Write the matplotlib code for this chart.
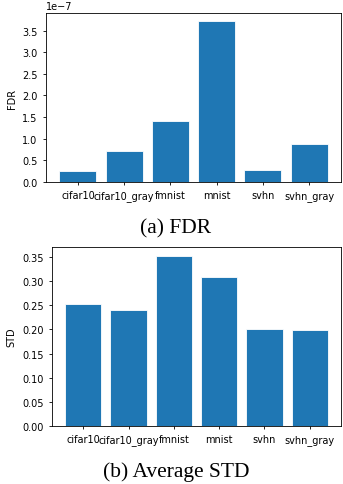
import matplotlib
matplotlib.use("Agg")
import matplotlib.pyplot as plt

categories = ["cifar10", "cifar10_gray", "fmnist", "mnist", "svhn", "svhn_gray"]
fdr_values = [0.25e-7, 0.71e-7, 1.42e-7, 3.72e-7, 0.28e-7, 0.87e-7]
std_values = [0.252, 0.240, 0.353, 0.309, 0.200, 0.198]

fig = plt.figure(figsize=(3.43, 4.85), dpi=100)
W, H = 343, 485

ax1 = fig.add_axes([46 / W, 1 - 183 / H, (341 - 46) / W, (183 - 14) / H])
ax1.bar(categories, fdr_values, color="#1f77b4", edgecolor="white", linewidth=0.6)
ax1.set_ylabel("FDR", fontsize=7)
ax1.tick_params(labelsize=7, length=2.5, width=0.6)
ax1.yaxis.get_offset_text().set_fontsize(7)
for s in ax1.spines.values():
    s.set_linewidth(0.6)

ax2 = fig.add_axes([52 / W, 1 - 427 / H, (341 - 52) / W, (427 - 248) / H])
ax2.bar(categories, std_values, color="#1f77b4", edgecolor="white", linewidth=0.6)
ax2.set_ylabel("STD", fontsize=7)
ax2.tick_params(labelsize=7, length=2.5, width=0.6)
for s in ax2.spines.values():
    s.set_linewidth(0.6)

fig.text(176 / W, 1 - 229 / H, "(a) FDR", ha="center", va="center",
         fontsize=15.5, family="Liberation Serif")
fig.text(176 / W, 1 - 472 / H, "(b) Average STD", ha="center", va="center",
         fontsize=15.5, family="Liberation Serif")

fig.savefig("out.png", dpi=100)
